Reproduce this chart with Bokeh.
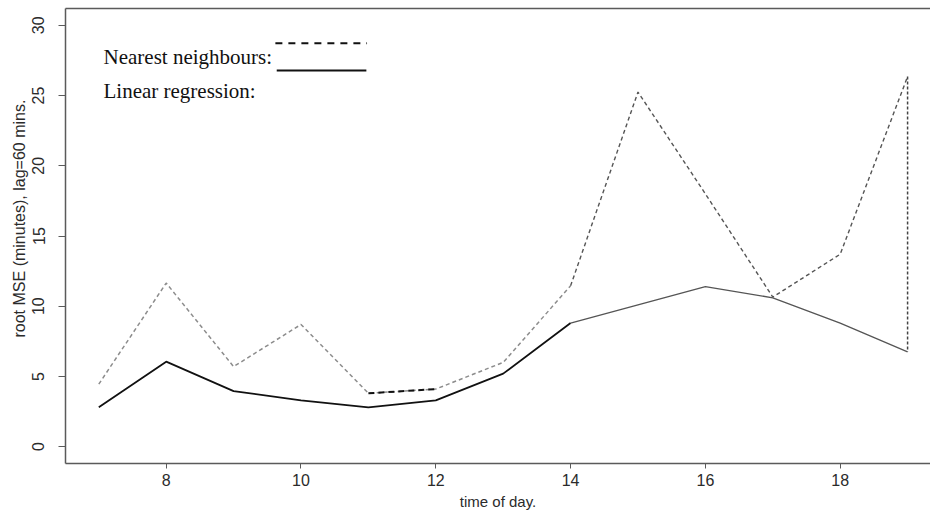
from bokeh.plotting import figure
from bokeh.models import Range1d, FixedTicker, LinearAxis, Label, Title
from bokeh.embed import file_html
from bokeh.resources import INLINE

# Hour of day and root MSE (minutes) at a 60-minute lag for each method
hours = [7, 8, 9, 10, 11, 12, 13, 14, 15, 16, 17, 18, 19]
nearest_neighbours = [4.45, 11.65, 5.7, 8.7, 3.8, 4.1, 6.0, 11.45, 25.25, 18.0, 10.65, 13.7, 26.35]
linear_regression = [2.8, 6.05, 3.95, 3.3, 2.8, 3.3, 5.2, 8.8, 10.1, 11.4, 10.6, 8.8, 6.75]

x_ticks = [8, 10, 12, 14, 16, 18]
y_ticks = [0, 5, 10, 15, 20, 25, 30]

FRAME = "#5a5a5a"
TEXT = "#2b2b2b"
SANS = "Liberation Sans"
SERIF = "Liberation Serif"

p = figure(
    width=930, height=512,
    output_backend="svg", toolbar_location=None,
    x_range=Range1d(6.506, 19.34), y_range=Range1d(-1.2, 31.2),
    min_border_left=65, min_border_right=0, min_border_top=8, min_border_bottom=49,
    x_axis_label="time of day.",
)
p.outline_line_color = None
p.grid.visible = False
p.background_fill_color = "white"
p.border_fill_color = "white"

# Bottom axis
xa = p.xaxis[0]
xa.ticker = FixedTicker(ticks=x_ticks)
xa.major_tick_out = 5
xa.major_tick_in = 0
xa.minor_tick_out = 0
xa.minor_tick_in = 0
xa.axis_line_color = FRAME
xa.axis_line_width = 1.5
xa.major_tick_line_color = FRAME
xa.major_label_text_font = SANS
xa.major_label_text_font_size = "16px"
xa.major_label_text_color = TEXT
xa.major_label_standoff = 5
xa.axis_label_text_font = SANS
xa.axis_label_text_font_style = "normal"
xa.axis_label_text_font_size = "15px"
xa.axis_label_text_color = TEXT
xa.axis_label_standoff = 4

# Left axis with vertical labels
ya = p.yaxis[0]
ya.ticker = FixedTicker(ticks=y_ticks)
ya.major_tick_out = 7
ya.major_tick_in = 0
ya.minor_tick_out = 0
ya.minor_tick_in = 0
ya.axis_line_color = FRAME
ya.axis_line_width = 1.5
ya.major_tick_line_color = FRAME
ya.major_label_orientation = "vertical"
ya.major_label_text_font = SANS
ya.major_label_text_font_size = "16px"
ya.major_label_text_color = TEXT
ya.major_label_standoff = 14

# Top edge of the box (no ticks)
top = LinearAxis(
    ticker=FixedTicker(ticks=[]),
    major_label_text_font_size="0px",
    major_label_standoff=0,
    major_tick_out=0, major_tick_in=0,
    minor_tick_out=0, minor_tick_in=0,
    axis_line_color=FRAME, axis_line_width=1.5,
)
p.add_layout(top, "above")

# Y title, starting well above the bottom of the box
p.add_layout(Title(text="root MSE (minutes), lag=60 mins.", align="left", offset=126,
                   standoff=3, text_font=SANS, text_font_size="16px",
                   text_font_style="normal", text_color=TEXT), "left")

# Nearest neighbours: dashed grey
p.line(hours[:8], nearest_neighbours[:8], line_color="#8c8c8c", line_width=1.5, line_dash="4 3")
p.line(hours[7:], nearest_neighbours[7:], line_color="#555555", line_width=1.4, line_dash="4 3")
p.line(hours[4:6], nearest_neighbours[4:6], line_color="#111111", line_width=2, line_dash="6 4")
# closing drop at the last hour
p.segment(x0=[hours[-1]], y0=[nearest_neighbours[-1]], x1=[hours[-1]], y1=[linear_regression[-1]],
          line_color="#444444", line_width=1.5, line_dash="3 2")

# Linear regression: solid
p.line(hours[:8], linear_regression[:8], line_color="#111111", line_width=1.8)
p.line(hours[7:], linear_regression[7:], line_color="#555555", line_width=1.3)

# Hand-drawn key
p.add_layout(Label(x=7.07, y=27.78, text="Nearest neighbours:", text_font=SERIF,
                   text_font_size="21px", text_color="#111111", text_baseline="alphabetic"))
p.add_layout(Label(x=7.07, y=25.29, text="Linear regression:", text_font=SERIF,
                   text_font_size="21px", text_color="#111111", text_baseline="alphabetic"))
p.line([9.62, 10.98], [28.73, 28.73], line_color="#111111", line_width=2, line_dash="7 6")
p.line([9.64, 10.97], [26.78, 26.78], line_color="#111111", line_width=2)

open("out.html", "w").write(file_html(p, INLINE))
